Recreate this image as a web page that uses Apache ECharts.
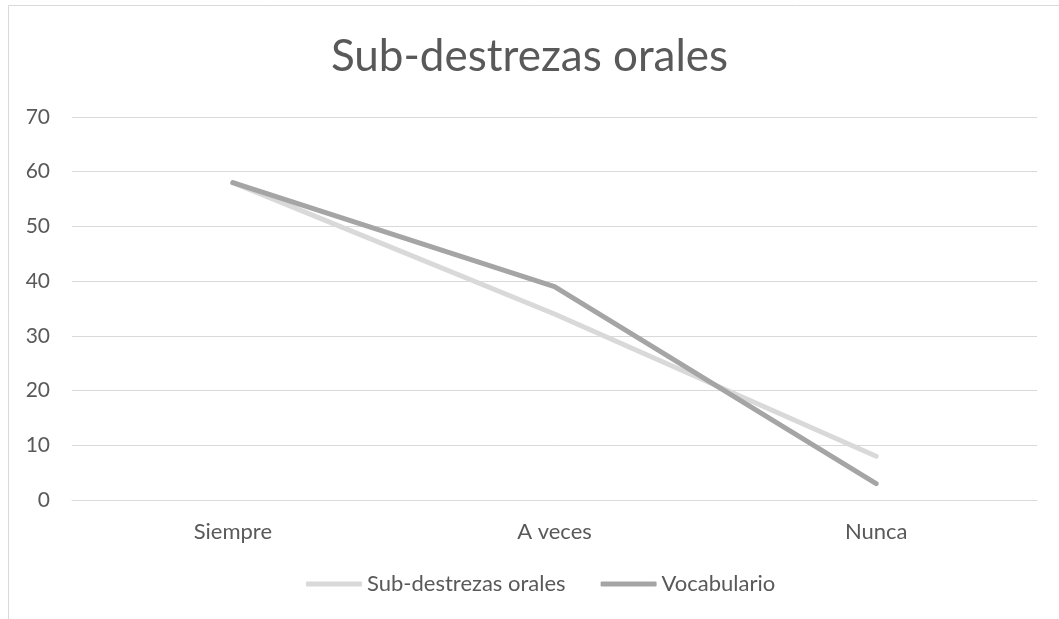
<!DOCTYPE html>
<html>
<head>
<meta charset="utf-8">
<script src="https://cdn.jsdelivr.net/npm/echarts@6/dist/echarts.min.js"></script>
<style>
  html, body { margin: 0; padding: 0; background: #fff; }
  #chart { width: 1059px; height: 619px; }
</style>
</head>
<body>
<div id="chart"></div>
<script>
// Survey responses per frequency category
const categories = ['Siempre', 'A veces', 'Nunca'];
const subDestrezas = [58, 34, 8];
const vocabulario = [58, 39, 3];
const yTicks = { min: 0, max: 70, interval: 10 };

const textColor = '#595959';
const fontFamily = 'Lato, "Open Sans", sans-serif';

const chart = echarts.init(document.getElementById('chart'), null, { renderer: 'canvas' });
chart.setOption({
  backgroundColor: '#ffffff',
  animation: false,
  title: {
    text: 'Sub-destrezas orales',
    left: 'center',
    top: 30,
    textStyle: { color: textColor, fontSize: 44, fontWeight: 'normal', fontFamily }
  },
  legend: {
    bottom: 19,
    left: 301,
    itemWidth: 56,
    itemHeight: 5,
    itemGap: 35,
    icon: 'roundRect',
    textStyle: { color: textColor, fontSize: 22, fontFamily },
    data: ['Sub-destrezas orales', 'Vocabulario']
  },
  grid: { left: 72, right: 22, top: 117, bottom: 119, containLabel: false },
  xAxis: {
    type: 'category',
    data: categories,
    boundaryGap: true,
    axisLine: { show: true, lineStyle: { color: '#d9d9d9', width: 1 } },
    axisTick: { show: false },
    axisLabel: { color: textColor, fontSize: 22, fontFamily, margin: 21 }
  },
  yAxis: {
    type: 'value',
    min: yTicks.min,
    max: yTicks.max,
    interval: yTicks.interval,
    axisLine: { show: false },
    axisTick: { show: false },
    axisLabel: { color: textColor, fontSize: 21, fontFamily, margin: 22 },
    splitLine: { lineStyle: { color: '#d9d9d9', width: 1 } }
  },
  graphic: [
    { type: 'line', shape: { x1: 8.5, y1: 5.5, x2: 1059, y2: 5.5 }, style: { stroke: '#d9d9d9', lineWidth: 1 }, silent: true },
    { type: 'line', shape: { x1: 8.5, y1: 5.5, x2: 8.5, y2: 619 }, style: { stroke: '#d9d9d9', lineWidth: 1 }, silent: true }
  ],
  series: [
    {
      name: 'Sub-destrezas orales',
      type: 'line',
      data: subDestrezas,
      showSymbol: false,
      symbol: 'none',
      color: '#d9d9d9',
      lineStyle: { color: '#d9d9d9', width: 5, cap: 'round', join: 'round' },
      itemStyle: { color: '#d9d9d9' }
    },
    {
      name: 'Vocabulario',
      type: 'line',
      data: vocabulario,
      showSymbol: false,
      symbol: 'none',
      color: '#a5a5a5',
      lineStyle: { color: '#a5a5a5', width: 5, cap: 'round', join: 'round' },
      itemStyle: { color: '#a5a5a5' }
    }
  ]
});
</script>
</body>
</html>
